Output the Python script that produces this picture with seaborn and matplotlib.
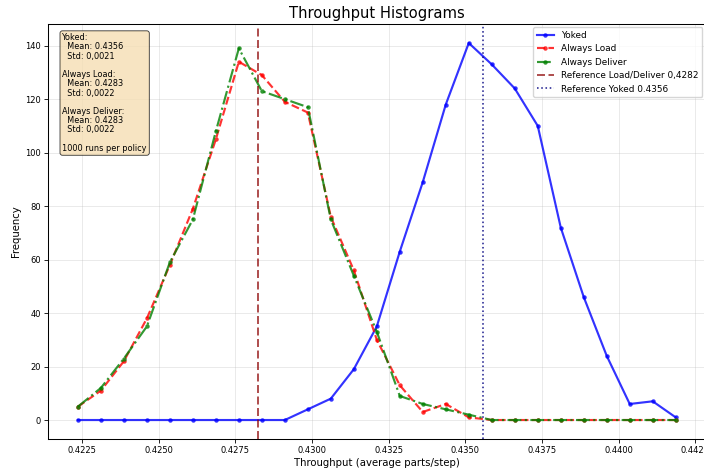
import numpy as np
import pandas as pd
import matplotlib
matplotlib.use("Agg")
import matplotlib.pyplot as plt
from matplotlib.ticker import MultipleLocator, FormatStrFormatter
import seaborn as sns

# ---- data ----
bin_centers = [0.42236, 0.42311, 0.42386, 0.42461, 0.42536, 0.42611, 0.42686,
               0.42761, 0.42836, 0.42911, 0.42986, 0.43061, 0.43136, 0.43211,
               0.43286, 0.43361, 0.43436, 0.43511, 0.43586, 0.43661, 0.43736,
               0.43811, 0.43886, 0.43961, 0.44036, 0.44111, 0.44186]
yoked = [0, 0, 0, 0, 0, 0, 0, 0, 0, 0, 4, 8, 19, 35, 63, 89, 118, 141, 133,
         124, 110, 72, 46, 24, 6, 7, 1]
always_load = [5, 11, 22, 38, 58, 79, 105, 134, 129, 119, 115, 76, 56, 30, 13,
               3, 6, 1, 0, 0, 0, 0, 0, 0, 0, 0, 0]
always_deliver = [5, 12, 23, 35, 59, 75, 108, 139, 123, 120, 117, 75, 54, 33, 9,
                  6, 4, 2, 0, 0, 0, 0, 0, 0, 0, 0, 0]
ref_load_deliver = 0.42823
ref_yoked = 0.43559
ref_load_label = "Reference Load/Deliver 0,4282"
ref_yoked_label = "Reference Yoked 0.4356"
series_names = ["Yoked", "Always Load", "Always Deliver"]
stats_text = ("Yoked:\n  Mean: 0.4356\n  Std: 0,0021\n\n"
              "Always Load:\n  Mean: 0.4283\n  Std: 0,0022\n\n"
              "Always Deliver:\n  Mean: 0.4283\n  Std: 0,0022\n\n"
              "1000 runs per policy")

plt.rcParams['font.family'] = ['DejaVu Sans']

fig = plt.figure(figsize=(7.04, 4.71), dpi=100)
ax = fig.add_axes([48/704, 0.0682, 657.6/704, 0.8805])

styles = [("blue", "-"), ("red", "--"), ("green", "-.")]
for name, vals, (col, ls) in zip(series_names, [yoked, always_load, always_deliver], styles):
    df = pd.DataFrame({"x": bin_centers, "y": vals})
    sns.lineplot(data=df, x="x", y="y", ax=ax, color=col, linestyle=ls,
                 marker="o", markersize=3.2, markeredgecolor=col,
                 markeredgewidth=0, linewidth=1.55, alpha=0.8, label=name)

ax.axvline(ref_load_deliver, color="darkred", linestyle="--", linewidth=1.15,
           alpha=0.85, dashes=(5, 2.2), label=ref_load_label)
ax.axvline(ref_yoked, color="navy", linestyle=":", linewidth=1.15,
           alpha=0.85, label=ref_yoked_label)

ax.xaxis.set_major_locator(MultipleLocator(0.0025))
ax.xaxis.set_major_formatter(FormatStrFormatter("%.4f"))
ax.tick_params(labelsize=6, length=2.6, width=0.6, pad=2.5)
for s in ax.spines.values():
    s.set_linewidth(0.75)
ax.grid(True, color="#b0b0b0", alpha=0.3, linewidth=0.6)

ax.set_title("Throughput Histograms", fontsize=10.6, pad=4.5)
ax.set_xlabel("Throughput (average parts/step)", fontsize=7.3, labelpad=2.5)
ax.set_ylabel("Frequency", fontsize=7.3, labelpad=3)

ax.legend(loc="upper right", fontsize=6.4, framealpha=0.8,
          borderaxespad=0.35)

ax.text(0.022, 0.978, stats_text, transform=ax.transAxes, fontsize=5.9,
        va="top", ha="left", linespacing=1.03,
        bbox=dict(boxstyle="round,pad=0.3", facecolor="wheat", alpha=0.8,
                  edgecolor="black", linewidth=0.6))

fig.savefig("out.png", dpi=100)
